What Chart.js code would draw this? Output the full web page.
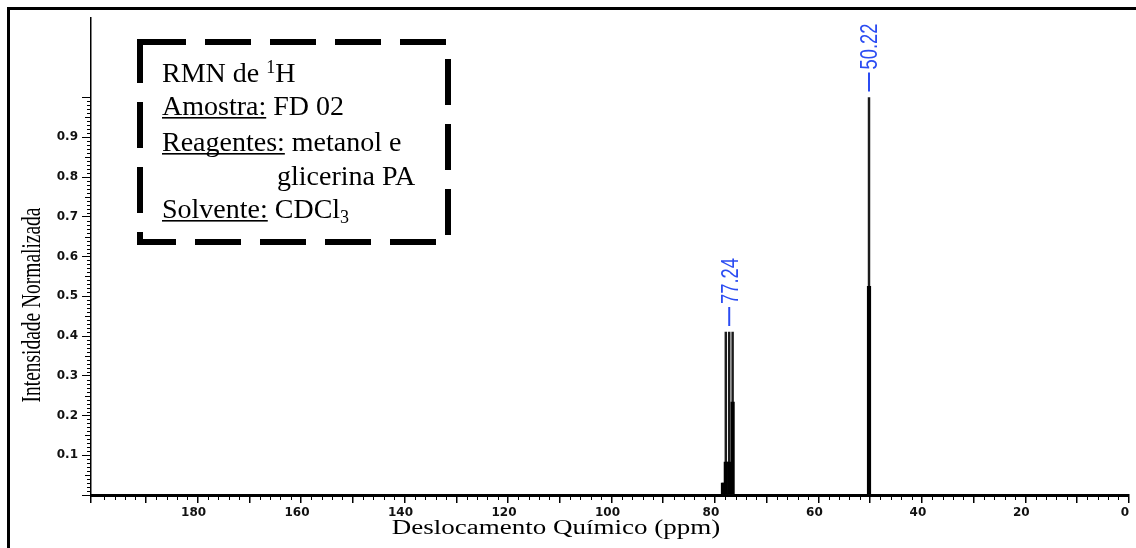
<!DOCTYPE html>
<html>
<head>
<meta charset="utf-8">
<script src="https://cdn.jsdelivr.net/npm/chart.js@4.4.1/dist/chart.umd.min.js"></script>
<style>
  html, body { margin: 0; padding: 0; background: #fff; overflow: hidden; }
</style>
</head>
<body>
<canvas id="rmn" width="1136" height="548"></canvas>
<script>
// sinais do espectro (ppm) e alturas normalizadas
const picosPpm = [78.45, 77.90, 77.24, 76.58, 50.22];
const alturaTopo = [0.03, 0.41, 0.41, 0.41, 1.00];   // linha fina ate o topo
const alturaBase = [0.03, 0.083, 0.083, 0.234, 0.525]; // parte grossa do pico

// rotulos azuis dos picos
const rotulosPpm = [77.24, 50.22];
const rotulosAltura = [0.41, 1.00];

// eixos
const ticksX = [0, 20, 40, 60, 80, 100, 120, 140, 160, 180];
const ticksY = [0.1, 0.2, 0.3, 0.4, 0.5, 0.6, 0.7, 0.8, 0.9];

const azul = '#2b4cf2';

function desenhaLinhaTexto(c, partes, x0, base) {
    let x = x0;
    partes.forEach(p => {
        if (p.sup || p.sub) {
            c.font = '18px "Liberation Serif", "Times New Roman", serif';
        } else {
            c.font = '28px "Liberation Serif", "Times New Roman", serif';
        }
        const dy = p.sup ? -9 : (p.sub ? 5 : 0);
        c.fillText(p.t, x, base + dy);
        const w = c.measureText(p.t).width;
        if (p.u) {
            c.fillRect(x, base + 2, w, 1.6);
        }
        x += w;
    });
}

const decoracoes = {
    id: 'decoracoes',
    beforeDraw(chart) {
        const c = chart.ctx;
        c.save();
        c.fillStyle = '#fff';
        c.fillRect(0, 0, chart.width, chart.height);
        // moldura externa
        c.strokeStyle = '#000';
        c.lineWidth = 3;
        c.beginPath();
        c.moveTo(8.5, chart.height);
        c.lineTo(8.5, 8.5);
        c.lineTo(chart.width, 8.5);
        c.stroke();
        c.restore();
    },
    afterDraw(chart) {
        const c = chart.ctx;
        const a = chart.chartArea;
        const x = chart.scales.x;
        const y = chart.scales.y;

        // ticks menores
        c.save();
        c.strokeStyle = '#000';
        c.lineWidth = 1;
        c.beginPath();
        for (let v = 2; v < 200; v += 2) {
            if (v % 10 === 0) continue;
            const px = Math.round(x.getPixelForValue(v)) + 0.5;
            c.moveTo(px, a.bottom);
            c.lineTo(px, a.bottom + 5);
        }
        for (let i = 1; i < 100; i++) {
            if (i % 10 === 0) continue;
            const py = Math.round(y.getPixelForValue(i / 100)) + 0.5;
            const len = i % 5 === 0 ? 6 : 4;
            c.moveTo(a.left, py);
            c.lineTo(a.left - len, py);
        }
        c.stroke();
        c.restore();

        // rotulos dos picos
        rotulosPpm.forEach((ppm, i) => {
            const px = x.getPixelForValue(ppm);
            const topo = y.getPixelForValue(rotulosAltura[i]);
            const y0 = topo - 6;
            const y1 = y0 - 19;
            c.save();
            c.strokeStyle = azul;
            c.lineWidth = 2;
            c.beginPath();
            c.moveTo(px, y0);
            c.lineTo(px, y1);
            c.stroke();
            c.translate(px + 1, y1 - 3);
            c.rotate(-Math.PI / 2);
            c.scale(0.8, 1);
            c.font = '23px "Liberation Sans", Arial, sans-serif';
            c.fillStyle = azul;
            c.textAlign = 'left';
            c.textBaseline = 'middle';
            c.fillText(ppm.toFixed(2), 0, 1);
            c.restore();
        });

        // caixa de informacoes
        c.save();
        c.strokeStyle = '#000';
        c.lineWidth = 6;
        c.setLineDash([46, 19]);
        c.strokeRect(140, 42, 308, 200);
        c.setLineDash([]);
        c.fillStyle = '#000';
        c.textBaseline = 'alphabetic';
        c.textAlign = 'left';
        desenhaLinhaTexto(c, [{t: 'RMN de '}, {t: '1', sup: true}, {t: 'H'}], 162, 82);
        desenhaLinhaTexto(c, [{t: 'Amostra:', u: true}, {t: ' FD 02'}], 162, 115);
        desenhaLinhaTexto(c, [{t: 'Reagentes:', u: true}, {t: ' metanol e'}], 162, 151);
        desenhaLinhaTexto(c, [{t: 'glicerina PA'}], 277, 185);
        desenhaLinhaTexto(c, [{t: 'Solvente:', u: true}, {t: ' CDCl'}, {t: '3', sub: true}], 162, 218);
        c.restore();

        // titulos dos eixos
        c.save();
        c.fillStyle = '#000';
        c.font = '20px "Liberation Serif", "Times New Roman", serif';
        c.textAlign = 'center';
        c.textBaseline = 'alphabetic';
        c.translate(556, 534);
        c.scale(1.35, 1);
        c.fillText('Deslocamento Químico (ppm)', 0, 0);
        c.restore();

        c.save();
        c.fillStyle = '#000';
        c.font = '27px "Liberation Serif", "Times New Roman", serif';
        c.textAlign = 'center';
        c.textBaseline = 'alphabetic';
        c.translate(40, 305);
        c.rotate(-Math.PI / 2);
        c.scale(0.72, 1);
        c.fillText('Intensidade Normalizada', 0, 0);
        c.restore();
    }
};

const ctx = document.getElementById('rmn').getContext('2d');
new Chart(ctx, {
    type: 'bar',
    data: {
        datasets: [
            {
                label: 'topo',
                data: picosPpm.map((p, i) => ({x: p, y: alturaTopo[i]})),
                backgroundColor: '#1c1c1c',
                barThickness: 1.8,
                grouped: false,
                order: 2
            },
            {
                label: 'base',
                data: picosPpm.map((p, i) => ({x: p, y: alturaBase[i]})),
                backgroundColor: '#000',
                barThickness: 3.5,
                grouped: false,
                order: 1
            }
        ]
    },
    options: {
        responsive: false,
        animation: false,
        layout: { padding: { top: 18, right: 7, left: 0, bottom: 0 } },
        plugins: {
            legend: { display: false },
            tooltip: { enabled: false }
        },
        scales: {
            x: {
                type: 'linear',
                reverse: true,
                min: 0,
                max: 200.6,
                offset: false,
                afterFit(scale) { scale.height = 53; },
                border: { display: true, color: '#000', width: 3 },
                grid: {
                    offset: false,
                    drawOnChartArea: false,
                    drawTicks: true,
                    tickLength: 8,
                    color: '#000',
                    lineWidth: 1.5
                },
                ticks: {
                    stepSize: 10,
                    autoSkip: false,
                    maxRotation: 0,
                    padding: 3,
                    labelOffset: -4,
                    color: '#111',
                    font: { family: '"DejaVu Sans", sans-serif', size: 12, weight: 'bold' },
                    callback: v => ticksX.includes(Math.round(v * 10) / 10) ? String(Math.round(v)) : ''
                }
            },
            y: {
                min: 0,
                max: 1.2,
                afterFit(scale) { scale.width = 91; },
                border: { display: true, color: '#000', width: 1.5 },
                grid: {
                    drawOnChartArea: false,
                    drawTicks: true,
                    tickLength: 9,
                    lineWidth: 1,
                    color: c => (c.tick && c.tick.value <= 1.0001) ? '#000' : 'rgba(0,0,0,0)'
                },
                ticks: {
                    stepSize: 0.1,
                    autoSkip: false,
                    padding: 4,
                    color: '#111',
                    font: { family: '"DejaVu Sans", sans-serif', size: 12, weight: 'bold' },
                    callback: v => {
                        const r = Math.round(v * 10) / 10;
                        return ticksY.includes(r) ? r.toFixed(1) : '';
                    }
                }
            }
        }
    },
    plugins: [decoracoes]
});
</script>
</body>
</html>
